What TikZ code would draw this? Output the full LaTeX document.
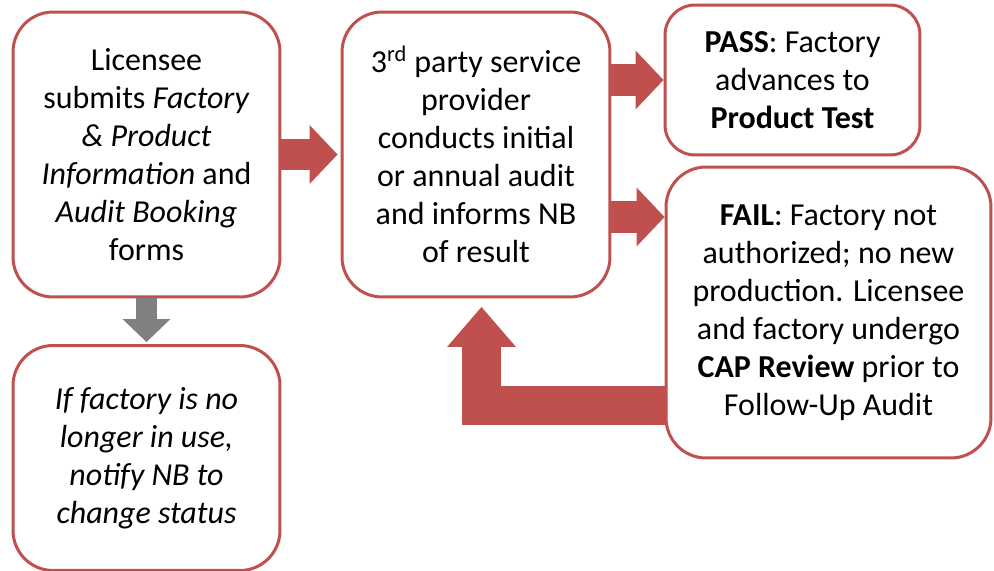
\documentclass[tikz,border=0pt]{standalone}
\usepackage{fontspec}
\setmainfont{Carlito}
\usepackage{tikz}
\usetikzlibrary{arrows.meta, calc}
\definecolor{boxred}{RGB}{192,80,77}
\definecolor{arrowgray}{RGB}{128,128,128}
\tikzset{
  stepbox/.style={draw=boxred, line width=1.7pt, rounded corners=0.8cm, fill=white,
    align=center, inner sep=0pt, font=\fontsize{18.2}{21.6}\selectfont},
  redarrow/.style={draw=boxred, line width=0.64cm,
    -{Triangle[length=0.56cm, width=1.18cm, line width=0pt]}},
  backarrow/.style={draw=boxred, line width=0.77cm, line join=miter,
    -{Triangle[length=0.8cm, width=1.38cm, line width=0pt]}},
  grayarrow/.style={draw=arrowgray, line width=0.44cm,
    -{Triangle[length=0.46cm, width=0.96cm, line width=0pt]}},
}

\begin{document}
\begin{tikzpicture}[x=0.02cm, y=-0.02cm]
    \useasboundingbox (0,0) rectangle (994,571);

    \node[stepbox, minimum width=5.34cm, minimum height=5.7cm] (lic) at (146.5,154.5)
        {Licensee\\ submits \textit{Factory}\\ \textit{\& Product}\\ \textit{Information} and\\ \textit{Audit Booking}\\ forms};
    \node[stepbox, minimum width=5.36cm, minimum height=5.7cm] (audit) at (476,154.5)
        {3\textsuperscript{rd} party service\\ provider\\ conducts initial\\ or annual audit\\ and informs NB\\ of result};
    \node[stepbox, rounded corners=0.6cm, minimum width=5.1cm, minimum height=3cm] (pass) at (792.5,80)
        {\textbf{PASS}: Factory\\ advances to\\ \textbf{Product Test}};
    \node[stepbox, minimum width=6.5cm, minimum height=5.82cm] (fail) at (828.5,312.5)
        {\textbf{FAIL}: Factory not\\ authorized; no new\\ production. Licensee\\ and factory undergo\\ \textbf{CAP Review} prior to\\ Follow-Up Audit};
    \node[stepbox, minimum width=5.34cm, minimum height=4.5cm] (unused) at (146.5,458)
        {\itshape If factory is no\\ \itshape longer in use,\\ \itshape notify NB to\\ \itshape change status};

    \coordinate (failin) at ($(audit.east)+(0,62.5)$);
    \coordinate (loop) at (481.5,405.5);
    \coordinate (back) at (481.5,307);

    \draw[redarrow] (lic.east) -- ($(audit.west)+(-3,0)$);
    \draw[redarrow] (audit.east |- pass.west) -- (pass.west);
    \draw[redarrow] (failin) -- (fail.west |- failin);
    \draw[grayarrow] (lic.south) -- ($(unused.north)+(0,-2)$);
    \draw[backarrow] (fail.west |- loop) -| (back);
\end{tikzpicture}
\end{document}
